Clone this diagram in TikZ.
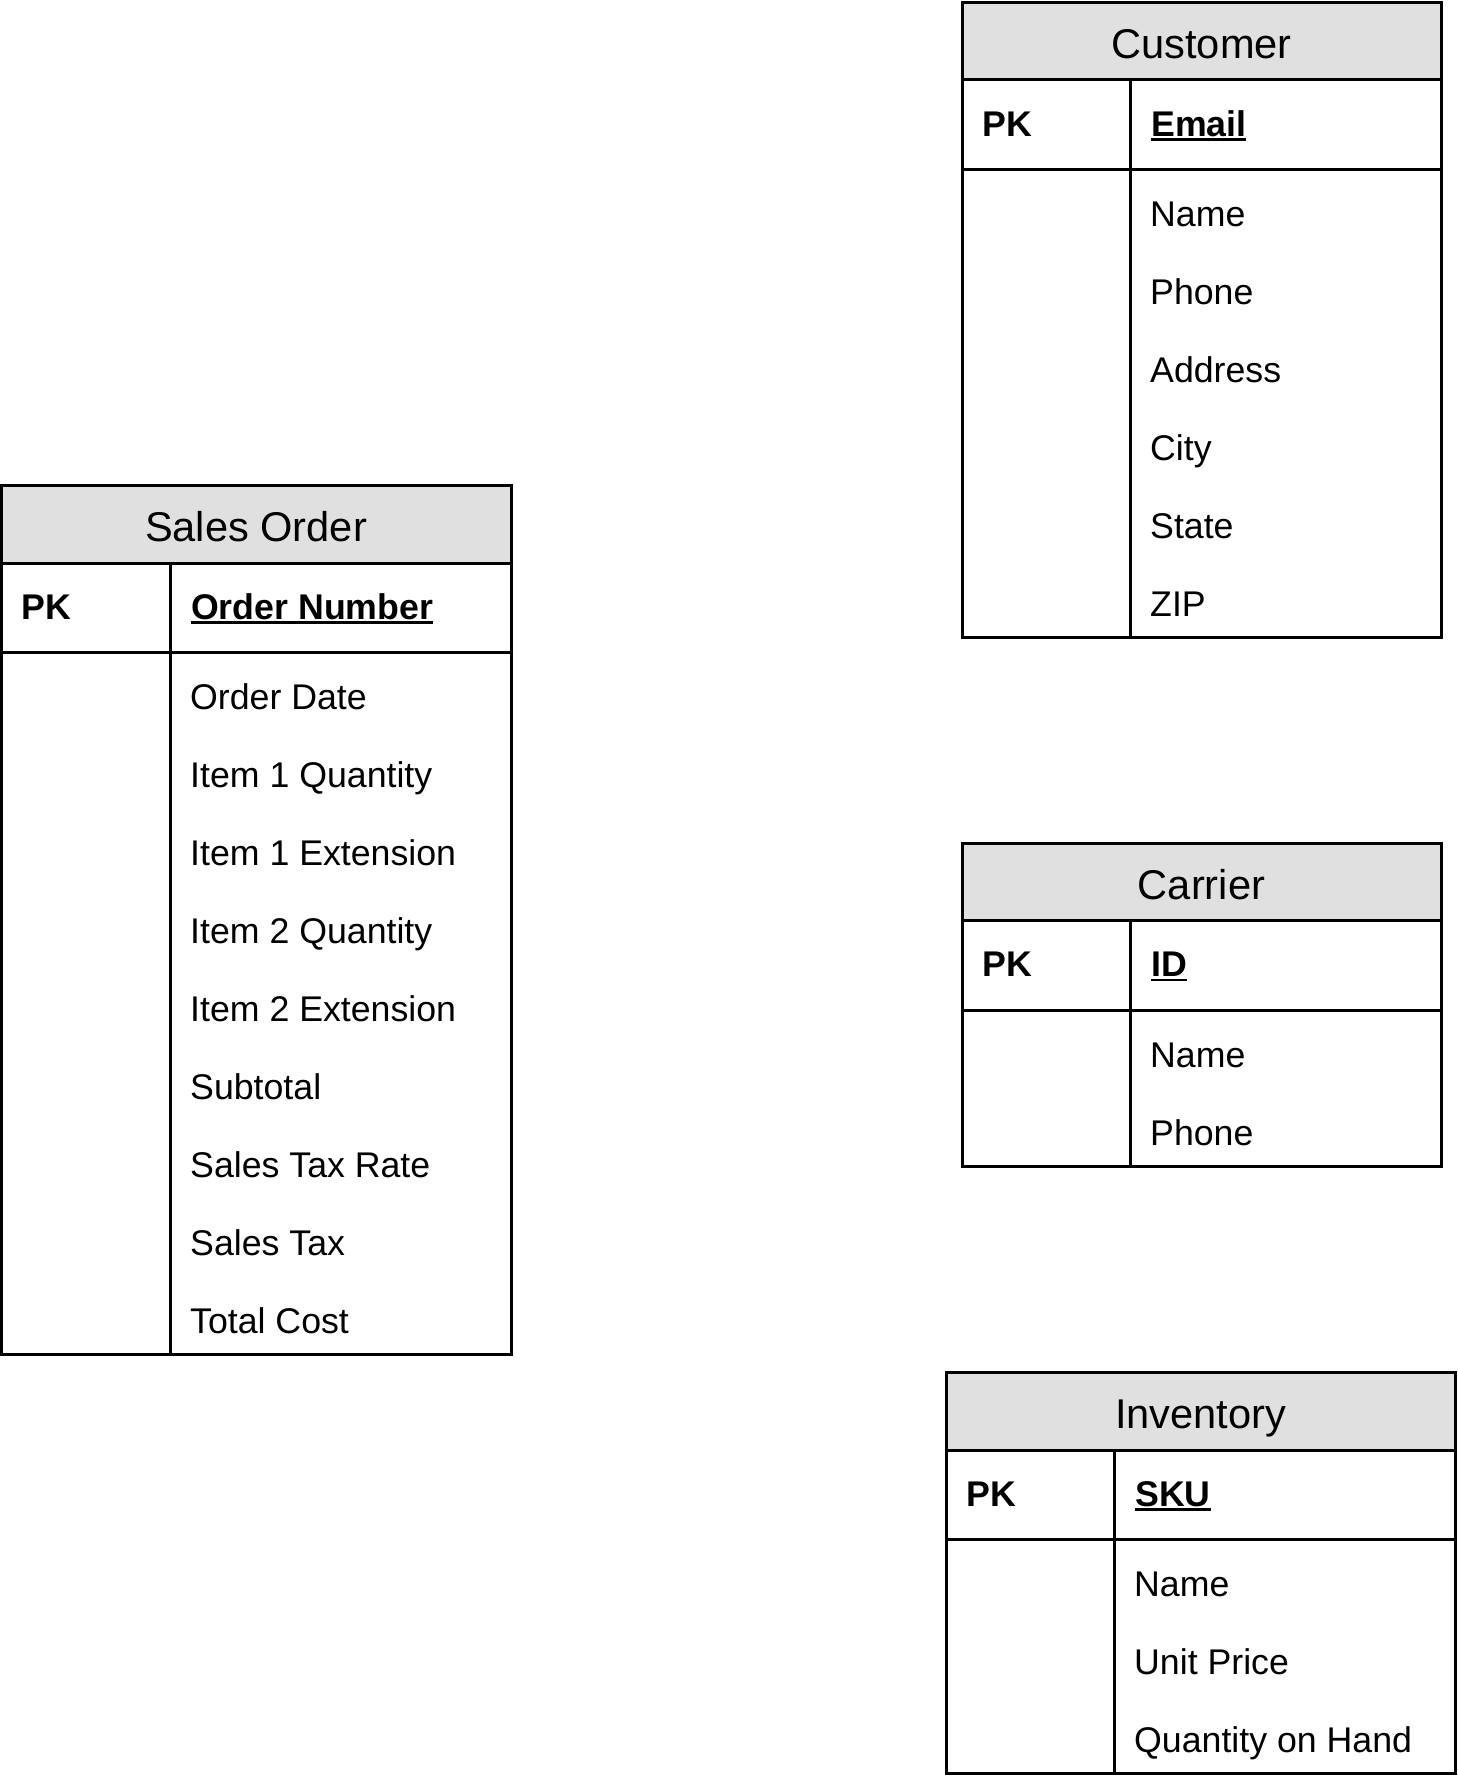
\documentclass[tikz,border=0pt]{standalone}
\usepackage{fontspec}
\setmainfont{Liberation Sans}
\definecolor{hdrgray}{HTML}{E0E0E0}
\newsavebox\ulbox
\newcommand\keyul[1]{\sbox\ulbox{#1}\rlap{\rule[-4.5pt]{\wd\ulbox}{2.2pt}}\usebox\ulbox}
\tikzset{
  framebox/.style={draw=black, line width=3pt, rectangle, inner sep=0pt, outer sep=0pt, anchor=north west},
  hdrbox/.style={framebox, fill=hdrgray},
  titletext/.style={font=\fontsize{41.6}{50}\selectfont, anchor=base, inner sep=0pt},
  pktext/.style={font=\fontsize{35.7}{43}\selectfont\bfseries, anchor=base west, inner sep=0pt},
  attrtext/.style={font=\fontsize{35.7}{43}\selectfont, anchor=base west, inner sep=0pt},
  divline/.style={draw=black, line width=3pt},
}
% #1 id, #2 x, #3 y, #4 width, #5 divider offset, #6 title, #7 key, #8 attributes, #9 rows
\newcommand\erent[9]{%
  \node[hdrbox, minimum width=#4pt, minimum height=77.5pt] (#1-head) at (#2,#3) {};
  \node[framebox, minimum width=#4pt, minimum height=89.5pt] (#1-pkrow) at (#2,#3+77.5) {};
  \node[framebox, minimum width=#4pt, minimum height=78*#9 pt] (#1-attrs) at (#2,#3+167) {};
  \draw[divline] ([xshift=#5pt]#1-pkrow.north west) -- ([xshift=#5pt]#1-attrs.south west);
  \node[titletext] (#1-title) at ({#2+#4/2},{#3+56}) {#6};
  \node[pktext] (#1-pk) at ({#2+20},{#3+133.5}) {PK};
  \node[pktext] (#1-key) at ({#2+#5+21},{#3+133.5}) {\keyul{#7}};
  \foreach \a [count=\i] in {#8} {
    \node[attrtext] (#1-a\i) at ({#2+#5+20},{#3+146+78*\i}) {\a};
  }%
}
\begin{document}
\begin{tikzpicture}[x=1pt,y=-1pt]
\useasboundingbox (0,0) rectangle (1458,1782);
\erent{cust}{962}{2.5}{479}{168}{Customer}{Email}{Name,Phone,Address,City,State,ZIP}{6}
\erent{sales}{1}{485.5}{510}{169}{Sales Order}{Order Number}{Order Date,Item 1 Quantity,Item 1 Extension,Item 2 Quantity,Item 2 Extension,Subtotal,Sales Tax Rate,Sales Tax,Total Cost}{9}
\erent{carr}{962}{843}{479}{168}{Carrier}{ID}{Name,Phone}{2}
\erent{inv}{946}{1372.5}{509.5}{168}{Inventory}{SKU}{Name,Unit Price,Quantity on Hand}{3}
\end{tikzpicture}
\end{document}
